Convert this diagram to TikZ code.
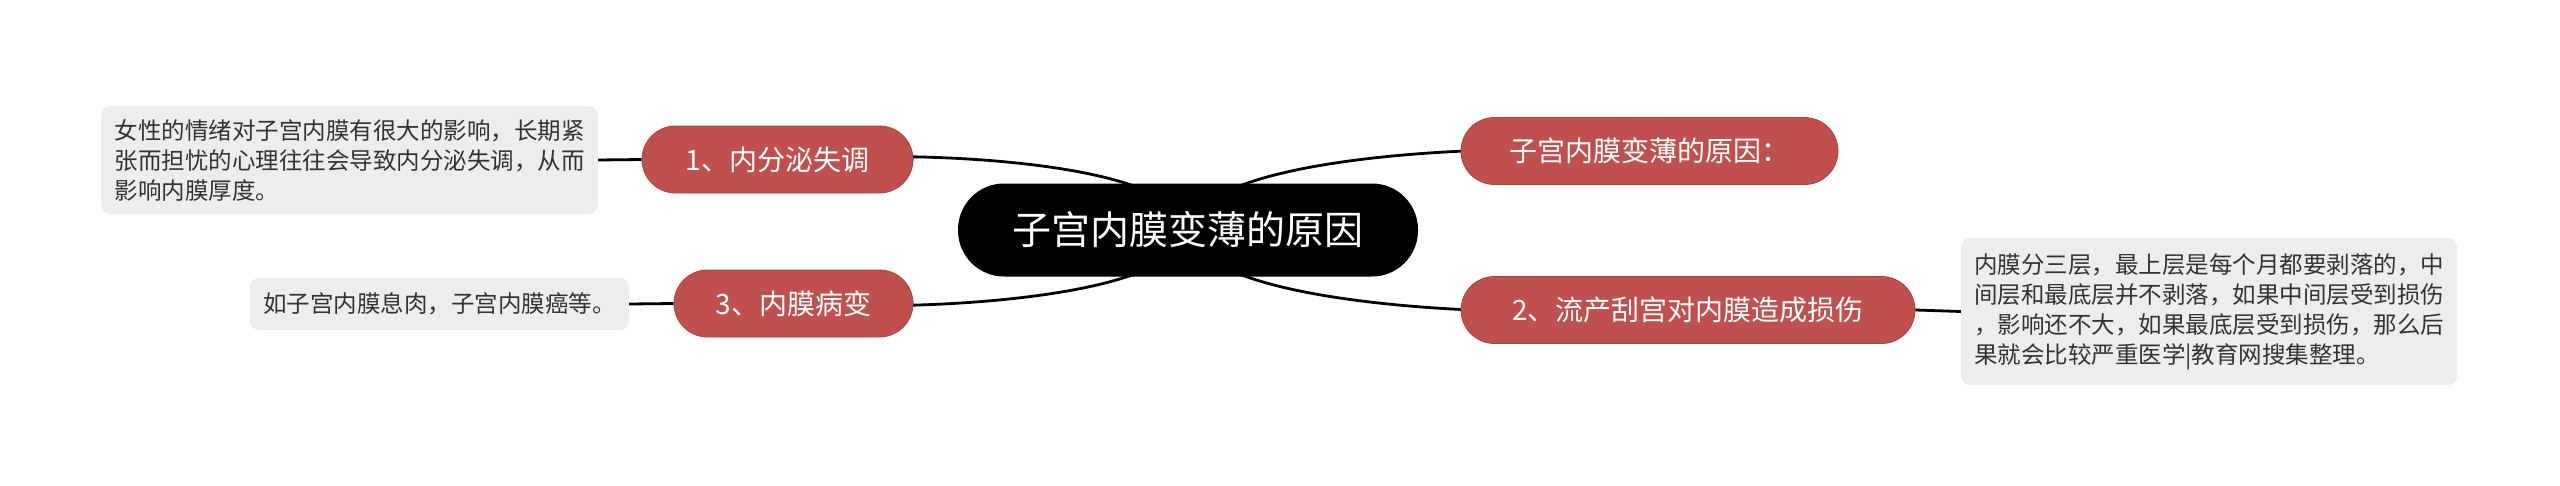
\documentclass[tikz,border=0pt]{standalone}
\usepackage{fontspec}
\setmainfont{Noto Sans CJK SC}
\usetikzlibrary{backgrounds}
\definecolor{redn}{HTML}{C0504D}
\definecolor{leafg}{HTML}{EDEDED}
\definecolor{leaft}{HTML}{333333}
\begin{document}
\begin{tikzpicture}[x=1pt,y=-1pt,
 central/.style={fill=black,text=white,rounded corners=46pt,minimum width=460pt,minimum height=93pt,inner sep=0pt,font=\fontsize{39}{46}\selectfont},
 branch/.style={fill=redn,draw=redn!85!black,line width=0.8pt,text=white,rounded corners=33.5pt,minimum height=67pt,inner sep=0pt,font=\fontsize{28}{34}\selectfont},
 leaf/.style={fill=leafg,rounded corners=9pt,inner sep=0pt,text=leaft,align=left,font=\fontsize{23.5}{30}\selectfont},
 conn/.style={line width=2.8pt,black},
]
\useasboundingbox (0,0) rectangle (2560,485);
\node[central] (c) at (1188,230) {子宫内膜变薄的原因};
\node[branch,minimum width=271pt] (b1) at (777.5,159.5) {1、内分泌失调};
\node[branch,minimum width=239pt] (b3) at (793.5,303.5) {3、内膜病变};
\node[branch,minimum width=377pt] (r) at (1649.5,151) {子宫内膜变薄的原因：};
\node[branch,minimum width=454pt] (b2) at (1688,310) {2、流产刮宫对内膜造成损伤};
\node[leaf,minimum width=497pt,minimum height=108pt] (l1) at (349.5,160) {女性的情绪对子宫内膜有很大的影响，长期紧\\张而担忧的心理往往会导致内分泌失调，从而\\影响内膜厚度。};
\node[leaf,minimum width=379pt,minimum height=52pt] (l3) at (439.5,304) {如子宫内膜息肉，子宫内膜癌等。};
\node[leaf,minimum width=496pt,minimum height=147pt] (l2) at (2209,311.5) {内膜分三层，最上层是每个月都要剥落的，中\\间层和最底层并不剥落，如果中间层受到损伤\\，影响还不大，如果最底层受到损伤，那么后\\果就会比较严重医学|教育网搜集整理。};
\begin{scope}[on background layer]
\draw[conn] (c.center) .. controls +(-15,-95) and +(-200,0) .. (b1.east);
\draw[conn] (c.center) .. controls +(-15,95) and +(-200,0) .. (b3.east);
\draw[conn] (c.center) .. controls +(15,-95) and +(200,0) .. (r.west);
\draw[conn] (c.center) .. controls +(15,95) and +(200,0) .. (b2.west);
\end{scope}
\draw[conn] (l1.east) -- (b1.west);
\draw[conn] (l3.east) -- (b3.west);
\draw[conn] (b2.east) -- (l2.west);
\end{tikzpicture}
\end{document}
